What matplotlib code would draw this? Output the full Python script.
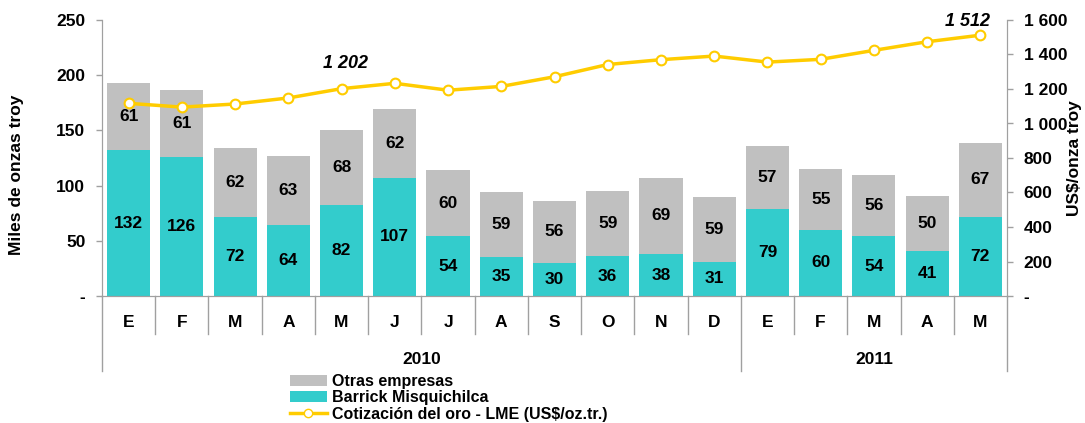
import matplotlib
matplotlib.use("Agg")
import matplotlib.pyplot as plt
from matplotlib.ticker import FuncFormatter
from matplotlib.patches import Patch
from matplotlib.lines import Line2D
import numpy as np

plt.rcParams['font.family'] = ['Liberation Sans', 'DejaVu Sans']
plt.rcParams['font.weight'] = 'bold'

months = ["E", "F", "M", "A", "M", "J", "J", "A", "S", "O", "N", "D", "E", "F", "M", "A", "M"]
years = ["2010", "2011"]
year_counts = [12, 5]
barrick = [132, 126, 72, 64, 82, 107, 54, 35, 30, 36, 38, 31, 79, 60, 54, 41, 72]
otras = [61, 61, 62, 63, 68, 62, 60, 59, 56, 59, 69, 59, 57, 55, 56, 50, 67]
oro = [1117, 1095, 1113, 1148, 1202, 1233, 1193, 1215, 1271, 1342, 1370, 1391, 1356, 1372, 1424, 1474, 1512]

TEAL = "#33CCCC"
GRAY = "#C0C0C0"
GOLD = "#FFCC00"
AXC = "#A0A0A0"
FS = 12.5

fig = plt.figure(figsize=(10.85, 4.23), dpi=100)
ax = fig.add_axes([102/1085, 1-296/423, (1007-102)/1085, (296-20)/423])
ax2 = ax.twinx()

x = np.arange(len(months))
w = 0.81
ax.bar(x, barrick, w, color=TEAL, zorder=2)
ax.bar(x, otras, w, bottom=barrick, color=GRAY, zorder=2)
for xi, b, o in zip(x, barrick, otras):
    ax.text(xi, b/2, f"{b}", ha="center", va="center", fontsize=FS, fontweight="bold", zorder=3)
    ax.text(xi, b + o/2, f"{o}", ha="center", va="center", fontsize=FS, fontweight="bold", zorder=3)

ax.set_xlim(-0.5, len(months)-0.5)
ax.set_ylim(0, 250)
ax.set_yticks([0, 50, 100, 150, 200, 250])
ax.yaxis.set_major_formatter(FuncFormatter(lambda v, p: "-" if v == 0 else f"{int(v)}"))
ax2.set_ylim(0, 1600)
ax2.set_yticks(range(0, 1601, 200))
ax2.yaxis.set_major_formatter(FuncFormatter(lambda v, p: "-" if v == 0 else f"{int(v):,}".replace(",", " ")))

ax2.plot(x, oro, color=GOLD, lw=2.5, marker="o", ms=7, mfc="white", mec=GOLD, mew=1.5, zorder=5)
ax2.annotate("1 202", (x[4], oro[4]), xytext=(3, 12), textcoords="offset points",
             ha="center", va="bottom", fontsize=13, fontweight="bold", style="italic")
ax2.annotate("1 512", (x[-1], oro[-1]), xytext=(-9, 4), textcoords="offset points",
             ha="center", va="bottom", fontsize=13, fontweight="bold", style="italic")

for a in (ax, ax2):
    a.spines["top"].set_visible(False)
    a.spines["left"].set_color(AXC)
    a.spines["right"].set_color(AXC)
    a.spines["bottom"].set_color(AXC)
    a.tick_params(axis="y", colors=AXC, labelcolor="black", labelsize=FS, length=4, width=1, pad=8)
ax.tick_params(axis="x", bottom=False, labelbottom=False)
ax2.tick_params(axis="x", bottom=False, labelbottom=False)
for lab in ax.get_yticklabels() + ax2.get_yticklabels():
    lab.set_fontweight("bold")

ax.set_ylabel("Miles de onzas troy", fontsize=FS, fontweight="bold")
ax.yaxis.set_label_coords(-78/905, 0.44)
ax2.set_ylabel("US$/onza troy", fontsize=FS, fontweight="bold")
ax2.yaxis.set_label_coords(1 + 60/905, 0.5)

# category axis below
trans = ax.get_xaxis_transform()
h = 296 - 20
row1 = -(334-296)/h
row2 = -(371-296)/h
bounds = [0] + list(np.cumsum(year_counts))
for i in range(len(months)+1):
    y2 = row2 if i in bounds else row1
    ax.plot([i-0.5, i-0.5], [0, y2], transform=trans, color=AXC, lw=1, clip_on=False)
for xi, m in zip(x, months):
    ax.text(xi, -(322-296)/h, m, transform=trans, ha="center", va="center", fontsize=FS, fontweight="bold")
start = 0
for yname, c in zip(years, year_counts):
    ax.text(start + c/2 - 0.5, -(359-296)/h, yname, transform=trans, ha="center", va="center",
            fontsize=FS, fontweight="bold")
    start += c

handles = [Patch(facecolor=GRAY, edgecolor="none"), Patch(facecolor=TEAL, edgecolor="none"),
           Line2D([0], [0], color=GOLD, lw=2.5, marker="o", ms=6, mfc="white", mec=GOLD)]
labels = ["Otras empresas", "Barrick Misquichilca", "Cotización del oro - LME (US$/oz.tr.)"]
fig.legend(handles, labels, loc="upper left", bbox_to_anchor=(290/1085, 1-374/423), frameon=False,
           prop={"size": 11.5, "weight": "bold"}, handlelength=2.3, handleheight=0.7,
           labelspacing=0.08, handletextpad=0.3, borderpad=0, borderaxespad=0)

fig.savefig("out.png", dpi=100)
